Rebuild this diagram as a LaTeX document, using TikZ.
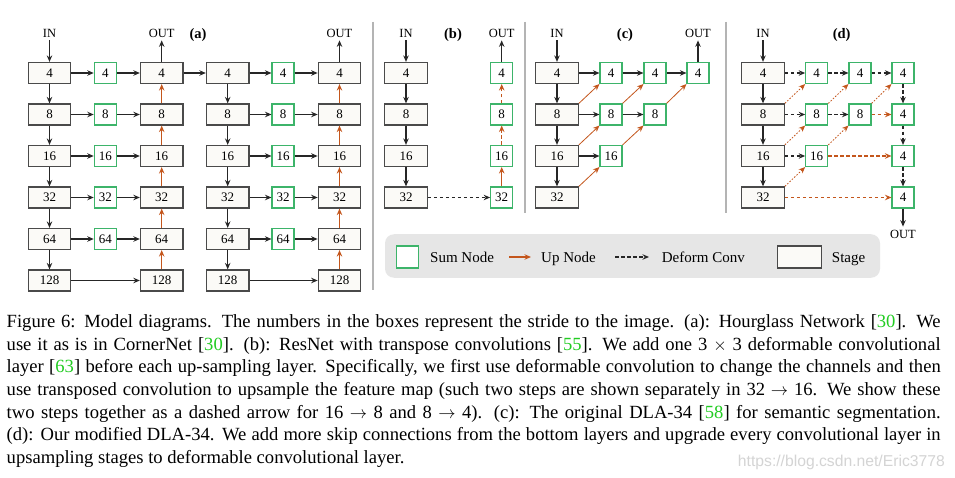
\documentclass[tikz,border=0pt]{standalone}
\usepackage{fontspec}
\setmainfont{Liberation Serif}
\newfontfamily\wmfont{Liberation Sans}
\usetikzlibrary{arrows.meta}
\definecolor{strokegray}{HTML}{4A4A4A}
\definecolor{stagefill}{HTML}{FBFAF7}
\definecolor{sumgreen}{HTML}{3DB46A}
\definecolor{upor}{HTML}{C4561C}
\definecolor{citegreen}{HTML}{22CC22}
\definecolor{sepgray}{HTML}{B4B4B4}
\definecolor{legfill}{HTML}{E6E6E6}
\definecolor{wmgray}{HTML}{D4D4D4}
\newcommand{\cit}[1]{[\textcolor{citegreen}{#1}]}
\begin{document}
\begin{tikzpicture}[x=1pt,y=-1pt,
 stagebox/.style={draw=strokegray, fill=stagefill, line width=1.25pt, minimum width=42.5pt, minimum height=21pt, inner sep=0pt, font=\fontsize{13}{13}\selectfont},
 sumbox/.style={draw=sumgreen, fill=white, line width=1.1pt, minimum width=22pt, minimum height=21pt, inner sep=0pt, font=\fontsize{13}{13}\selectfont},
 lbl/.style={font=\fontsize{12.5}{12.5}\selectfont, inner sep=0pt},
 paneltxt/.style={font=\bfseries\fontsize{14.5}{14.5}\selectfont, inner sep=0pt},
 legtxt/.style={font=\fontsize{15}{15}\selectfont, inner sep=0pt, anchor=base west},
 captxt/.style={font=\fontsize{18.6}{22.7}\selectfont, inner sep=0pt, anchor=base west},
 arr/.style={draw=black!85, line width=1.1pt, -{Stealth[length=6.5pt,width=5.5pt,inset=2.2pt]}},
 darr/.style={arr, dash pattern=on 3.5pt off 2.5pt},
 uparr/.style={draw=upor, line width=1.1pt, -{Stealth[length=6.5pt,width=5.5pt,inset=2.2pt]}},
 updarr/.style={uparr, dash pattern=on 3.5pt off 2.5pt},
 diagarr/.style={draw=upor, line width=0.8pt, -{Stealth[length=6.5pt,width=5.5pt,inset=2.2pt]}},
 diagdot/.style={diagarr, dash pattern=on 1.6pt off 1.6pt},
 sepline/.style={draw=sepgray, line width=1.2pt},
]
\useasboundingbox (0,0) rectangle (955,478);
\fill[white] (0,0) rectangle (955,478);

% separators
\draw[sepline] (373,22) -- (373,290);
\draw[sepline] (525,22) -- (525,213);
\draw[sepline] (726,22) -- (726,213);

% ---------- (a) two hourglass modules
\foreach \h/\ax/\gx/\cx in {1/49.5/105.3/161.7, 2/227.7/283/339.5} {
  \foreach \i/\s/\y in {1/4/73,2/8/114.5,3/16/156,4/32/197.5,5/64/239,6/128/280.5} {
    \node[stagebox] (h\h a\i) at (\ax,\y) {\s};
    \node[stagebox] (h\h c\i) at (\cx,\y) {\s};
  }
  \foreach \i/\s/\y in {1/4/73,2/8/114.5,3/16/156,4/32/197.5,5/64/239} {
    \node[sumbox] (h\h g\i) at (\gx,\y) {\s};
    \draw[arr] (h\h a\i) -- (h\h g\i);
    \draw[arr] (h\h g\i) -- (h\h c\i);
  }
  \foreach \i/\j in {1/2,2/3,3/4,4/5,5/6} {
    \draw[arr] (h\h a\i) -- (h\h a\j);
    \draw[uparr] (h\h c\j) -- (h\h c\i);
  }
  \draw[arr] (h\h a6) -- (h\h c6);
  \node[lbl] (out\h) at (\cx,33) {OUT};
  \draw[arr, shorten >=3pt] (h\h c1) -- (out\h);
}
\node[lbl] (in1) at (49.5,33) {IN};
\draw[arr, shorten <=3pt] (in1) -- (h1a1);
\draw[arr] (h1c1) -- (h2a1);
\node[paneltxt] (pa) at (198,35) {(a)};

% ---------- (b)
\foreach \i/\s/\y in {1/4/73,2/8/114.5,3/16/156,4/32/197.5} {
  \node[stagebox] (bs\i) at (406,\y) {\s};
  \node[sumbox] (bg\i) at (501.7,\y) {\s};
}
\foreach \i/\j in {1/2,2/3,3/4} { \draw[arr] (bs\i) -- (bs\j); }
\draw[darr] (bs4) -- (bg4);
\draw[uparr] (bg4) -- (bg3);
\draw[updarr] (bg3) -- (bg2);
\draw[updarr] (bg2) -- (bg1);
\node[lbl] (inb) at (406,33) {IN};
\draw[arr, shorten <=3pt] (inb) -- (bs1);
\node[lbl] (outb) at (501.7,33) {OUT};
\draw[arr, shorten >=3pt] (bg1) -- (outb);
\node[paneltxt] (pb) at (453,35) {(b)};

% ---------- (c)
\foreach \i/\s/\y in {1/4/73,2/8/114.5,3/16/156,4/32/197.5} {
  \node[stagebox] (cs\i) at (557,\y) {\s};
}
\node[sumbox] (cp1) at (611,73) {4};
\node[sumbox] (cp2) at (611,114.5) {8};
\node[sumbox] (cp3) at (611,156) {16};
\node[sumbox] (cq1) at (655,73) {4};
\node[sumbox] (cq2) at (655,114.5) {8};
\node[sumbox] (cr1) at (698,73) {4};
\foreach \i/\j in {1/2,2/3,3/4} { \draw[arr] (cs\i) -- (cs\j); }
\draw[arr] (cs1) -- (cp1);
\draw[arr] (cs2) -- (cp2);
\draw[arr] (cs3) -- (cp3);
\draw[arr] (cp1) -- (cq1);
\draw[arr] (cp2) -- (cq2);
\draw[arr] (cq1) -- (cr1);
\draw[diagarr] (cs2.north east) -- (cp1.south west);
\draw[diagarr] (cs3.north east) -- (cp2.south west);
\draw[diagarr] (cs4.north east) -- (cp3.south west);
\draw[diagarr] (cp2.north east) -- (cq1.south west);
\draw[diagarr] (cp3.north east) -- (cq2.south west);
\draw[diagarr] (cq2.north east) -- (cr1.south west);
\node[lbl] (inc) at (557,33) {IN};
\draw[arr, shorten <=3pt] (inc) -- (cs1);
\node[lbl] (outc) at (698,33) {OUT};
\draw[arr, shorten >=3pt] (cr1) -- (outc);
\node[paneltxt] (pc) at (625,35) {(c)};

% ---------- (d)
\foreach \i/\s/\y in {1/4/73,2/8/114.5,3/16/156,4/32/197.5} {
  \node[stagebox] (ds\i) at (763,\y) {\s};
  \node[sumbox] (dr\i) at (903,\y) {4};
}
\node[sumbox] (dp1) at (816.7,73) {4};
\node[sumbox] (dp2) at (816.7,114.5) {8};
\node[sumbox] (dp3) at (816.7,156) {16};
\node[sumbox] (dq1) at (860,73) {4};
\node[sumbox] (dq2) at (860,114.5) {8};
\foreach \i/\j in {1/2,2/3,3/4} {
  \draw[arr] (ds\i) -- (ds\j);
  \draw[darr] (dr\i) -- (dr\j);
}
\draw[darr] (ds1) -- (dp1);
\draw[darr] (ds2) -- (dp2);
\draw[darr] (ds3) -- (dp3);
\draw[darr] (dp1) -- (dq1);
\draw[darr] (dp2) -- (dq2);
\draw[darr] (dq1) -- (dr1);
\draw[updarr] (dq2) -- (dr2);
\draw[updarr] (dp3) -- (dr3);
\draw[updarr] (ds4) -- (dr4);
\draw[diagdot] (ds2.north east) -- (dp1.south west);
\draw[diagdot] (ds3.north east) -- (dp2.south west);
\draw[diagdot] (ds4.north east) -- (dp3.south west);
\draw[diagdot] (dp2.north east) -- (dq1.south west);
\draw[diagdot] (dp3.north east) -- (dq2.south west);
\draw[diagdot] (dq2.north east) -- (dr1.south west);
\node[lbl] (ind) at (763,33) {IN};
\draw[arr, shorten <=3pt] (ind) -- (ds1);
\node[lbl] (outd) at (903,234) {OUT};
\draw[arr, shorten >=3pt] (dr4) -- (outd);
\node[paneltxt] (pd) at (841.7,35) {(d)};

% ---------- legend
\node[fill=legfill, rounded corners=9pt, minimum width=495pt, minimum height=43.5pt, inner sep=0pt] (legend) at (632.5,256) {};
\node[sumbox, minimum width=21.6pt, minimum height=22pt] (lgsum) at (407.5,257) {};
\node[legtxt] (lgsumt) at (430,262) {Sum Node};
\coordinate (lgu1) at (509,257);
\coordinate (lgu2) at (531,257);
\draw[uparr] (lgu1) -- (lgu2);
\node[legtxt] (lgupt) at (541,262) {Up Node};
\coordinate (lgd1) at (615,257);
\coordinate (lgd2) at (649,257);
\draw[darr] (lgd1) -- (lgd2);
\node[legtxt] (lgdt) at (661.7,262) {Deform Conv};
\node[stagebox, minimum width=44pt, minimum height=22pt] (lgst) at (799.7,257) {};
\node[legtxt] (lgstt) at (831.7,262) {Stage};

% ---------- caption
\node[captxt] (cap1) at (6.5,327.3) {\makebox[934pt][s]{Figure 6: Model diagrams. The numbers in the boxes represent the stride to the image. (a): Hourglass Network \cit{30}. We}};
\node[captxt] (cap2) at (6.5,350) {\makebox[934pt][s]{use it as is in CornerNet \cit{30}. (b): ResNet with transpose convolutions \cit{55}. We add one 3 $\times$ 3 deformable convolutional}};
\node[captxt] (cap3) at (6.5,372.7) {\makebox[934pt][s]{layer \cit{63} before each up-sampling layer. Specifically, we first use deformable convolution to change the channels and then}};
\node[captxt] (cap4) at (6.5,395.3) {\makebox[934pt][s]{use transposed convolution to upsample the feature map (such two steps are shown separately in 32 $\rightarrow$ 16. We show these}};
\node[captxt] (cap5) at (6.5,418) {\makebox[934pt][s]{two steps together as a dashed arrow for 16 $\rightarrow$ 8 and 8 $\rightarrow$ 4). (c): The original DLA-34 \cit{58} for semantic segmentation.}};
\node[captxt] (cap6) at (6.5,440.7) {\makebox[934pt][s]{(d): Our modified DLA-34. We add more skip connections from the bottom layers and upgrade every convolutional layer in}};
\node[captxt] (cap7) at (6.5,463.3) {upsampling stages to deformable convolutional layer.};

% watermark
\node[anchor=base east, font=\wmfont\fontsize{15.7}{15.7}\selectfont, text=wmgray, inner sep=0pt] (wm) at (945,466) {https://blog.csdn.net/Eric3778};
\end{tikzpicture}
\end{document}
